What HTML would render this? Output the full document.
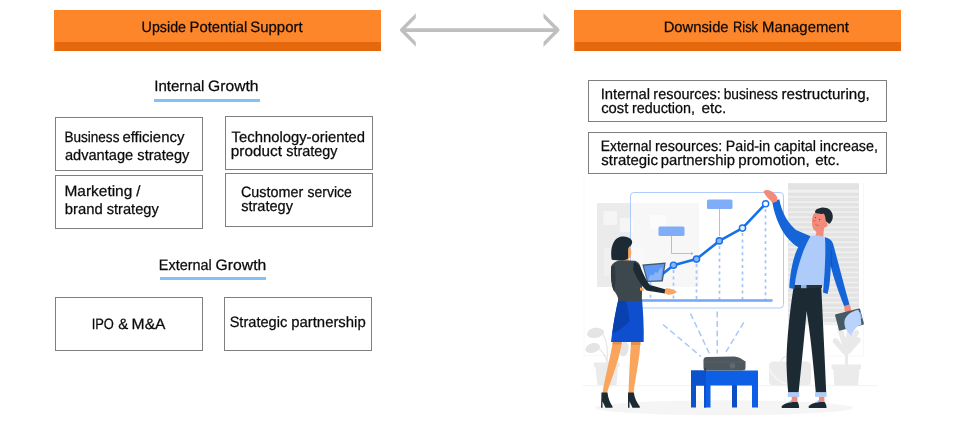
<!DOCTYPE html>
<html lang="en">
<head>
<meta charset="utf-8">
<title>Upside Potential Support and Downside Risk Management</title>
<style>
html,body{margin:0;padding:0;background:#fff;}
body{width:960px;height:427px;position:relative;overflow:hidden;font-family:"Liberation Sans",sans-serif;color:#0a0a0a;}
.hd{position:absolute;top:10px;height:41px;width:327px;background:#fd852a;}
.hd::after{content:"";position:absolute;left:1px;right:0;bottom:0;height:9px;background:#e5680c;}
.box{position:absolute;box-sizing:border-box;border:1px solid #7f7f7f;background:#fff;}
.t{position:absolute;white-space:pre;font-size:15px;line-height:18px;height:18px;width:300px;will-change:transform;text-rendering:geometricPrecision;-webkit-text-stroke:0.25px #0a0a0a;}
.t span{position:absolute;left:0;top:0;display:block;transform-origin:0 0;}
.sub{position:absolute;height:3px;background:#85c1f9;}
svg{position:absolute;left:0;top:0;}
</style>
</head>
<body>
<svg width="960" height="427" viewBox="0 0 960 427">
<!-- wall decoration -->
<g id="wall">
<rect x="597" y="203" width="102" height="84" fill="#ebebeb"/>
<rect x="603.500" y="211" width="13.500" height="14" fill="#f5f5f5"/>
<rect x="620" y="218" width="13.500" height="14" fill="#f5f5f5"/>
<rect x="650" y="215" width="16" height="14" fill="#f5f5f5"/>
<rect x="604" y="248" width="40" height="28" fill="#f0f0f0"/>
</g>
<!-- window blinds -->
<g id="blinds" fill="#e3e3e3">
<rect x="788" y="183.300" width="71" height="142" fill="#f0f0f0"/>
<rect x="788" y="183.300" width="71" height="6.400"/>
<rect x="788" y="192.7" width="71" height="3.500"/>
<rect x="788" y="197.7" width="71" height="3.500"/>
<rect x="788" y="202.8" width="71" height="3.500"/>
<rect x="788" y="207.8" width="71" height="3.500"/>
<rect x="788" y="212.8" width="71" height="3.500"/>
<rect x="788" y="217.8" width="71" height="3.500"/>
<rect x="788" y="222.9" width="71" height="3.500"/>
<rect x="788" y="227.9" width="71" height="3.500"/>
<rect x="788" y="232.9" width="71" height="3.500"/>
<rect x="788" y="238.0" width="71" height="3.500"/>
<rect x="788" y="243.0" width="71" height="3.500"/>
<rect x="788" y="248.0" width="71" height="3.500"/>
<rect x="788" y="253.1" width="71" height="3.500"/>
<rect x="788" y="258.1" width="71" height="3.500"/>
<rect x="788" y="263.1" width="71" height="3.500"/>
<rect x="788" y="268.1" width="71" height="3.500"/>
<rect x="788" y="273.2" width="71" height="3.500"/>
<rect x="788" y="278.2" width="71" height="3.500"/>
<rect x="788" y="283.2" width="71" height="3.500"/>
<rect x="788" y="288.3" width="71" height="3.500"/>
<rect x="788" y="293.3" width="71" height="3.500"/>
<rect x="788" y="298.3" width="71" height="3.500"/>
<rect x="788" y="303.4" width="71" height="3.500"/>
<rect x="788" y="308.4" width="71" height="3.500"/>
<rect x="788" y="313.4" width="71" height="3.500"/>
<rect x="788" y="318.4" width="71" height="3.500"/>
</g>
<!-- floor -->
<rect x="583" y="385" width="294" height="1.200" fill="#f4f4f4"/>
<path d="M584 176V355.500H630 M863.500 183V356H827" fill="none" stroke="#f7f7f7" stroke-width="1"/>
<ellipse cx="724" cy="407.800" rx="129" ry="7.500" fill="#f5f5f5"/>
<!-- plants and bag -->
<g id="deco" fill="#ebebeb">
<path d="M587 334.500C587.500 330 592 327.500 597 327.800C601 328 604 330 604.300 332.500C602 336.500 597 338.500 592.500 338C589.500 337.500 587.500 336.500 587 334.500Z" fill="#e4e4e4"/>
<path d="M585.500 349.500C586 345.500 590 343 594.500 343C598 343 600 345 600 347.500C598.500 351 594.500 353 590.500 353C587.500 353 585.500 351.500 585.500 349.500Z" fill="#e4e4e4"/>
<ellipse cx="624" cy="349" rx="4.500" ry="7.500" transform="rotate(12 624 349)" fill="#e4e4e4"/>
<path d="M603 334 Q609 345 607 363 M599 349 Q606 354 607 363 M622 352 Q611 356 608 363" fill="none" stroke="#e6e6e6" stroke-width="1.200"/>
<path d="M594 362.500H619.500V367H618L616.500 385.500H597.500L595.500 367H594Z"/>
<path d="M831.500 364.500H861V369H859.500L858 385.500H834.500L833 369H831.500Z"/>
<g fill="none" stroke="#e9e9e9" stroke-linecap="round">
<path d="M846.500 364V346" stroke-width="3"/>
<path d="M845 352L835.500 341" stroke-width="5.500"/>
<path d="M845.500 346L840 329.500" stroke-width="5.500"/>
<path d="M847.500 346L850.500 326" stroke-width="5.500"/>
<path d="M848.500 351L858 340" stroke-width="5.500"/>
<path d="M849 346L856.500 332.500" stroke-width="5"/>
</g>
<path d="M769 366 Q769 361.500 774 361.500H806 Q811 361.500 811 366V381 Q811 385.500 806 385.500H774 Q769 385.500 769 381Z"/>
<path d="M781 362 C781 354 797 354 797 362" fill="none" stroke="#ebebeb" stroke-width="1.500"/>
<path d="M769 368C772 376 779 382 788 384.500" fill="none" stroke="#f7f7f7" stroke-width="1.200"/>
</g>
<!-- board -->
<rect x="630.500" y="192.500" width="153" height="115.500" rx="3.500" fill="#ffffff" fill-opacity="0.600" stroke="#aecbfa" stroke-width="1"/>
<!-- chart -->
<g id="chart">
<g stroke="#a3c4fa" stroke-width="1.700" stroke-dasharray="3 3.400" fill="none">
<path d="M650.500 282V300"/>
<path d="M673.500 270V300"/>
<path d="M696.500 264V300"/>
<path d="M719.500 246V300"/>
<path d="M742.500 233V300"/>
<path d="M765.500 209V300"/>
</g>
<rect x="642" y="299.200" width="130.500" height="2.600" fill="#78a9f7"/>
<rect x="658.500" y="226.500" width="26" height="9.500" rx="1.500" fill="#7fadf8"/>
<rect x="707" y="199.500" width="25.500" height="9.500" rx="1.500" fill="#7fadf8"/>
<path d="M671.500 236V253.500H692" fill="none" stroke="#8ab4f8" stroke-width="0.800"/>
<path d="M691 252L693.500 253.500L691 255Z" fill="#8ab4f8"/>
<path d="M719.500 209V236" fill="none" stroke="#8ab4f8" stroke-width="0.800"/>
<path d="M662 274.500L673.500 265.200L696.500 259.100L719.300 240.900L742.500 228.100L765.600 203.800" fill="none" stroke="#1570ea" stroke-width="2.600" stroke-linejoin="round"/>
<g fill="#8ab4f8" stroke="#1570ea" stroke-width="1.400">
<circle cx="673.500" cy="265.200" r="3.100"/>
<circle cx="696.500" cy="259.100" r="3.100"/>
<circle cx="719.300" cy="240.900" r="3.100"/>
<circle cx="742.500" cy="228.100" r="3.100" fill="#e6effe"/>
<circle cx="765.600" cy="203.800" r="3.100" fill="#ffffff"/>
</g>
</g>
<!-- projector beams -->
<g stroke="#a8c7fa" stroke-width="1.500" stroke-dasharray="6 3.500" fill="none">
<path d="M663 324.500L701 356.500"/>
<path d="M690.500 313.500L709.300 353.400"/>
<path d="M717.200 311.500V353.400"/>
<path d="M743.700 322.400L724.500 354.400"/>
</g>
<!-- table and projector -->
<g id="table">
<path d="M732 385H737V407.500H732Z" fill="#0b4fc4"/>
<path d="M704 385H710.500V407.500H704Z M752 385H758V407.500H752Z" fill="#0d5fe6"/>
<path d="M691 370.500H758V385.500H691Z" fill="#0d5fe6"/>
<path d="M691 370.500H706V407.500H704V385.500H696V407.500H691Z" fill="#0b52cc"/>
<path d="M703.500 360 Q703.500 357 707 357L734 356.500 Q737 356.500 740 358L745.500 361.500V368 Q745.500 370.500 742 370.500H706 Q703.500 370.500 703.500 368Z" fill="#4d575d"/>
<path d="M703.500 362H745.500" stroke="#5d676d" stroke-width="0.600" fill="none"/>
<circle cx="732.500" cy="365.800" r="2.800" fill="#5f696f"/>
<rect x="704.500" y="368" width="1.500" height="4" fill="#3a4348"/>
</g>
<!-- woman -->
<g id="woman">
<path d="M612.800 341.500H621.700C620.500 357 612 377 607 393H602.500C605 377 610.500 357 612.800 341.500Z" fill="#f9a55e"/>
<path d="M631 341.500H640.400C640 358 635.500 377 633.500 393H628.500C629 377 630 358 631 341.500Z" fill="#f9a55e"/>
<path d="M631 341.500H640.400V345H631Z" fill="#e5914d"/>
<path d="M612.800 341.500H621.700V344.500H612.500Z" fill="#e5914d"/>
<path d="M601.500 392.500H607.500C608 398 610 403 612.500 406.500V407.800H605.500L602.500 401.500V407.800H601Z" fill="#1c2b33"/>
<path d="M628 392.500H633.800C634.500 398 637 403 639.800 406.500V407.800H632.500L629.500 401.500V407.800H628Z" fill="#1c2b33"/>
<path d="M618.500 299H642C643.200 313 644 327 643.700 342H611C612.500 327 615.500 313 618.500 299Z" fill="#0e4fcf"/>
<path d="M618.500 299H625.500C628 309 629.500 316 629.300 321.500C624 327 618 331 612.300 334C613.500 323 615.500 311 618.500 299Z" fill="#0a41b0"/>
<path d="M627.500 246.500C630 246.500 631.300 249 631.300 252C631.300 255 630.500 258 628.500 258.800L629.500 263H623V250Z" fill="#f9a55e"/>
<path d="M611.700 259.600C610.800 255 611 249 612.500 245C614 240.500 617 236.800 622 236.400C626 236.300 630.500 237.500 631.800 240.500C632.800 243 631.500 245.500 629.500 246.800C628.500 247.500 628.100 248.500 628.100 250L628.100 258.500C626 260 623 260.600 620 260.500C616.500 260.600 613.500 260.300 611.700 259.600Z" fill="#1c2b33"/>
<path d="M611.200 266.500C612.500 263 616 261 621.500 260.300L635 260.800C638.500 261.800 640.500 265 641.300 270C642.200 280 642.200 290 641.800 301H618.700C618 297 616.500 293.500 614 291C611.500 285 610.800 275 611.200 266.500Z" fill="#3d484e"/>
<path d="M611.200 266.500C610.500 276 611 286 614 291C615.800 287 615.800 275 614.800 265.500Z" fill="#2f3a40"/>
<path d="M642.300 264.500L665.700 262.600L662.800 281.500L647 282Z" fill="#455a64"/>
<path d="M643.800 265.700L664.300 264L661.800 280.200L647.800 280.700Z" fill="#5e97f6"/>
<path d="M648.500 279L650.500 274.500L653 275.500L655.500 272L657.500 273L660 268.500L662.500 267.500L661 280L648.500 280.500Z" fill="#8ab4f8"/>
<path d="M634 262C638.500 263 640.500 267 642 271C645 277.500 647 282 650 285L666 289.500L665 293.500L646.500 290.500C641 286 636 277 633 269Z" fill="#1c2b33"/>
<path d="M665.500 288.300C669 287.800 673.500 289.500 677 291.800C675 294 671 295 668 294.800L664.500 293Z" fill="#f9a55e"/>
<path d="M640 287.500L644 288.500L643.500 291L640 290.500Z" fill="#f9a55e"/>
</g>
<!-- man -->
<g id="man">
<path d="M793.500 287.500H821.300C822.800 320 825 360 826.200 392.500H815.800C813.500 365 810.500 335 806.600 311C804.500 335 801.500 365 798.600 392.500H788.200C787.500 385 786.800 375 786.500 364C786.500 340 790 310 793.500 287.500Z" fill="#1c2b33"/>
<path d="M787.800 392.300H799.200V397H787.800Z" fill="#aecbfa"/>
<path d="M815 392.300H826.600V396.800H815Z" fill="#aecbfa"/>
<path d="M791.700 396.800H797.400V402.500H791.700Z" fill="#f38b7a"/>
<path d="M819 396.800H824.400V402.500H819Z" fill="#f38b7a"/>
<path d="M781.600 406.300C783.500 404 788 402.300 791.500 402H797.600C798.600 403.500 799.200 405.500 799.100 408H781.800Z" fill="#1c2b33"/>
<path d="M808.600 406.300C810.500 404 815 402.300 818.800 402H824.600C825.800 403.500 826.600 405.500 826.500 408H808.800Z" fill="#1c2b33"/>
<path d="M788.500 402.500L791.800 399.800L792.300 402.200Z M815.800 402.500L819.100 399.800L819.600 402.200Z" fill="#8ab4f8"/>
<path d="M817 229.500L824 227.500L823.200 237.200L815.300 237Z" fill="#f38b7a"/>
<path d="M810.500 236.300C814 235 820 235 825.500 237.500C826.500 250 825 270 823.200 286H794C796 268 802 250 810.500 236.300Z" fill="#aecbfa"/>
<path d="M793.800 285H822V288H793.400Z" fill="#263238"/>
<path d="M801 285H806.500V288.200H801Z" fill="#8ab4f8"/>
<path d="M772.200 201.800L779.300 199.300C780.500 206 783 213 786 218C789 223 792.500 227 796 230L810.500 236.300C802.500 250 796 270 794.300 289L789.300 288C790 272 793.500 256 798.200 247.300C793.500 244.500 789 240 785.500 235.500C778.500 226 774 213 772.200 201.800Z" fill="#1565d8"/>
<path d="M825 237.300C828.500 238 831.500 239.800 833 243.500C837 258 844 285 849.500 304.500L844.300 306.500C839 293 833.500 278 830.800 266C830.500 277 829.500 288 827.500 294L823 292.500C824.500 275 826 255 825 237.300Z" fill="#1565d8"/>
<path d="M832 268C831.500 262 831 255 831.500 250" stroke="#0e50b8" stroke-width="0.800" fill="none"/>
<path d="M763.500 191.500C765 189.500 768.500 189.500 771 191C774 192.500 777 195.500 777.500 198.500L777 201.500L772.500 203C770 199.500 765 196 763.500 191.500Z" fill="#f38b7a"/>
<path d="M844.500 306L849.500 304.500C851 307 851.500 310 850.500 312.500L846 313C844.500 311 844 308.500 844.500 306Z" fill="#f38b7a"/>
<path d="M812 221.500C812 218 812.800 215.500 813.700 214C815.500 212 821 211.500 824.500 214C826 216.500 826.300 219.500 826.300 222C827.500 222.500 828 224.500 827.300 226C826.500 227.300 825.500 227.500 824.800 227.300C823.500 230 821 232 818.400 232.200C815.500 232 813 229.500 812.300 226C812 224.500 812 223 812 221.500Z" fill="#f38b7a"/>
<path d="M814.900 212.500C815 210 817 208.500 819.500 208.200C821 207.300 824 207.300 826.500 208C830.500 209 833 213 832.800 217C832.600 220 831 222.500 829.800 223.500C829 224 828 223 827.300 222.300C826.300 222 825.800 221 825.500 219C825.200 216.500 824.800 214.800 823.800 213.800C821 214.200 817.500 213.800 814.900 212.500Z" fill="#1c2b33"/>
<circle cx="814.400" cy="220.800" r="1.300" fill="#ee5f55" fill-opacity="0.700"/>
<circle cx="819.700" cy="219.600" r="0.550" fill="#1c2b33"/>
<circle cx="815.600" cy="217.400" r="0.500" fill="#1c2b33"/>
<path d="M815.600 224.300C816.500 225.500 817.800 225.800 818.800 225.200" stroke="#a8473b" stroke-width="0.600" fill="none"/>
<path d="M835.100 315.600Q834.800 314.600 835.800 314.300L858.800 308.500Q859.800 308.300 860.100 309.300L863.900 323.400Q864.100 324.400 863.100 324.700L840.200 330.600Q839.200 330.800 838.900 329.800Z" fill="#455a64"/>
<path d="M858 312.500L860.300 311.900L862 318.500L859.700 319.100Z" fill="#8ab4f8"/>
<path d="M858.500 310C853 310.500 847.500 314 845 319C843.500 323 845 328 847 331L851.500 336C853 331 855.500 327.500 859 325.500L861.500 324.500C861 319.500 860 314.500 858.500 310Z" fill="#bad3fc"/>
</g>
</svg>

<div class="hd" style="left:54px"></div>
<div class="hd" style="left:574px"></div>
<div class="sub" style="left:154px;top:99px;width:106px"></div>
<div class="sub" style="left:160px;top:277px;width:106px"></div>
<div class="box" style="left:55px;top:117px;width:148px;height:54px"></div>
<div class="box" style="left:225px;top:116px;width:148px;height:54px"></div>
<div class="box" style="left:55px;top:175px;width:148px;height:54px"></div>
<div class="box" style="left:225px;top:173px;width:148px;height:54px"></div>
<div class="box" style="left:55px;top:297px;width:148px;height:54px"></div>
<div class="box" style="left:224px;top:297px;width:148px;height:54px"></div>
<div class="box" style="left:588px;top:80px;width:299px;height:42px"></div>
<div class="box" style="left:588px;top:132px;width:299px;height:42px"></div>
<div class="t" style="left:142px;top:19px"><span style="transform:translateX(-0.42px) scaleX(0.9515)">Upside </span><span style="transform:translateX(47.51px) scaleX(0.9887)">Potential </span><span style="transform:translateX(108.31px) scaleX(0.9943)">Support</span></div>
<div class="t" style="left:664px;top:19px"><span style="transform:translateX(-0.34px) scaleX(0.9859)">Downside </span><span style="transform:translateX(69.01px) scaleX(0.8564)">Risk </span><span style="transform:translateX(98.12px) scaleX(0.9922)">Management</span></div>
<div class="t" style="left:155px;top:78px"><span style="transform:translateX(-0.81px) scaleX(1.0047)">Internal </span><span style="transform:translateX(53.05px) scaleX(1.0430)">Growth</span></div>
<div class="t" style="left:159px;top:257px"><span style="transform:translateX(-0.18px) scaleX(0.9614)">External </span><span style="transform:translateX(56.59px) scaleX(1.0475)">Growth</span></div>
<div class="t" style="left:65px;top:129px"><span style="transform:translateX(-0.60px) scaleX(0.9042)">Business </span><span style="transform:translateX(57.40px) scaleX(0.9956)">efficiency</span></div>
<div class="t" style="left:65px;top:147px"><span style="transform:translateX(-0.10px) scaleX(0.9743)">advantage </span><span style="transform:translateX(72.31px) scaleX(0.9757)">strategy</span></div>
<div class="t" style="left:65px;top:183px"><span style="transform:translateX(-0.52px) scaleX(1.0295)">Marketing </span><span style="transform:translateX(71.13px) scaleX(0.9995)">/</span></div>
<div class="t" style="left:65px;top:201px"><span style="transform:translateX(-0.21px) scaleX(0.9895)">brand </span><span style="transform:translateX(41.67px) scaleX(0.9772)">strategy</span></div>
<div class="t" style="left:231px;top:129px"><span style="transform:translateX(0.61px) scaleX(0.9882)">Technology-oriented</span></div>
<div class="t" style="left:231px;top:143px"><span style="transform:translateX(-0.19px) scaleX(1.0208)">product </span><span style="transform:translateX(55.25px) scaleX(0.9600)">strategy</span></div>
<div class="t" style="left:241px;top:184px"><span style="transform:translateX(0.02px) scaleX(0.9559)">Customer </span><span style="transform:translateX(66.57px) scaleX(0.9328)">service</span></div>
<div class="t" style="left:241px;top:198px"><span style="transform:translateX(0.23px) scaleX(0.9689)">strategy</span></div>
<div class="t" style="left:92px;top:316px"><span style="transform:translateX(-0.36px) scaleX(0.8607)">IPO </span><span style="transform:translateX(26.13px) scaleX(0.9995)">&amp; </span><span style="transform:translateX(39.60px) scaleX(1.0435)">M&amp;A</span></div>
<div class="t" style="left:230px;top:314px"><span style="transform:translateX(-0.37px) scaleX(0.9736)">Strategic </span><span style="transform:translateX(61.21px) scaleX(0.9922)">partnership</span></div>
<div class="t" style="left:601px;top:86px"><span style="transform:translateX(-0.35px) scaleX(0.9887)">Internal </span><span style="transform:translateX(52.34px) scaleX(0.9625)">resources: </span><span style="transform:translateX(122.67px) scaleX(0.9173)">business </span><span style="transform:translateX(180.51px) scaleX(1.0087)">restructuring,</span></div>
<div class="t" style="left:601px;top:100px"><span style="transform:translateX(0.15px) scaleX(0.9873)">cost </span><span style="transform:translateX(30.97px) scaleX(0.9564)">reduction, </span><span style="transform:translateX(100.46px) scaleX(1.0258)">etc.</span></div>
<div class="t" style="left:601px;top:138px"><span style="transform:translateX(-0.20px) scaleX(0.9223)">External </span><span style="transform:translateX(53.89px) scaleX(0.9624)">resources: </span><span style="transform:translateX(124.82px) scaleX(0.9492)">Paid-in </span><span style="transform:translateX(172.97px) scaleX(0.9708)">capital </span><span style="transform:translateX(218.82px) scaleX(0.9555)">increase,</span></div>
<div class="t" style="left:601px;top:152px"><span style="transform:translateX(0.35px) scaleX(0.9968)">strategic </span><span style="transform:translateX(59.67px) scaleX(0.9902)">partnership </span><span style="transform:translateX(137.26px) scaleX(1.0073)">promotion, </span><span style="transform:translateX(214.16px) scaleX(1.0129)">etc.</span></div>
<svg width="960" height="60" viewBox="0 0 960 60">
<defs><clipPath id="ac"><rect x="390" y="0" width="25.800" height="60"/><rect x="415.800" y="27" width="127.700" height="6"/><rect x="543.500" y="0" width="25" height="60"/></clipPath></defs>
<g fill="none" stroke="#bfbfbf" clip-path="url(#ac)">
<path d="M402 30.050H557" stroke-width="3.700"/>
<path d="M418.500 13.050L401.600 30.050L418.500 47.050" stroke-width="3.400" stroke-linejoin="round"/>
<path d="M540.900 13.050L557.800 30.050L540.900 47.050" stroke-width="3.400" stroke-linejoin="round"/>
</g>
</svg>
</body>
</html>
